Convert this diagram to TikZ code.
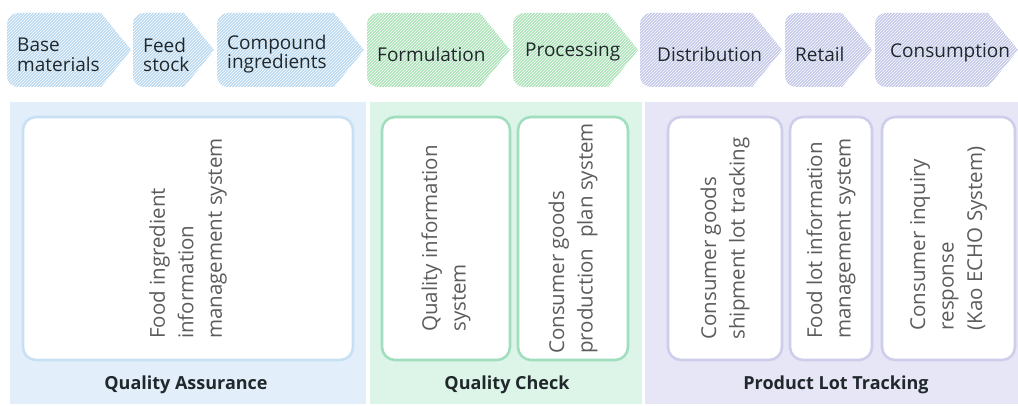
\documentclass[tikz,border=0pt]{standalone}
\usepackage{fontspec}
\setmainfont{Open Sans}
\usetikzlibrary{patterns}

\definecolor{stageblue}{RGB}{186,217,241}
\definecolor{stagegreen}{RGB}{172,226,184}
\definecolor{stagepurple}{RGB}{196,200,234}
\definecolor{panelblue}{RGB}{226,239,250}
\definecolor{panelgreen}{RGB}{221,244,232}
\definecolor{panelpurple}{RGB}{230,230,246}
\definecolor{edgeblue}{RGB}{200,224,244}
\definecolor{edgegreen}{RGB}{160,222,190}
\definecolor{edgepurple}{RGB}{206,206,236}
\definecolor{inkdark}{RGB}{32,40,44}
\definecolor{inkgray}{RGB}{92,92,92}

\begin{document}
\begin{tikzpicture}[x=1pt, y=1pt,
  hatch/.style={postaction={pattern=north east lines, pattern color=white, fill opacity=0.3}},
  stagetext/.style={anchor=west, align=left, inner sep=0pt, text=inkdark, font=\fontsize{19}{19.5}\selectfont},
  sysbox/.style={draw, line width=2.6pt, fill=white, rounded corners=13pt, rotate=90, align=left,
    inner sep=0pt, text=inkgray, font=\fontsize{20.5}{28.5}\selectfont},
  paneltitle/.style={inner sep=0pt, text=inkdark, font=\fontsize{18}{21}\selectfont\bfseries}]
\useasboundingbox (0,0) rectangle (1018,405);

% process stages along the top
\fill[stageblue, hatch] (7,329) arc[start angle=180, end angle=270, radius=11] -- (101,318) -- (131,355) -- (101,392) -- (18,392) arc[start angle=90, end angle=180, radius=11] -- cycle;
\fill[stageblue, hatch] (133,329) arc[start angle=180, end angle=270, radius=11] -- (184,318) -- (214,355) -- (184,392) -- (144,392) arc[start angle=90, end angle=180, radius=11] -- cycle;
\fill[stageblue, hatch] (217,329) arc[start angle=180, end angle=270, radius=11] -- (334,318) -- (364,355) -- (334,392) -- (228,392) arc[start angle=90, end angle=180, radius=11] -- cycle;
\fill[stagegreen, hatch] (367,329) arc[start angle=180, end angle=270, radius=11] -- (480,318) -- (510,355) -- (480,392) -- (378,392) arc[start angle=90, end angle=180, radius=11] -- cycle;
\fill[stagegreen, hatch] (513,329) arc[start angle=180, end angle=270, radius=11] -- (608,318) -- (638,355) -- (608,392) -- (524,392) arc[start angle=90, end angle=180, radius=11] -- cycle;
\fill[stagepurple, hatch] (640,329) arc[start angle=180, end angle=270, radius=11] -- (752,318) -- (782,355) -- (752,392) -- (651,392) arc[start angle=90, end angle=180, radius=11] -- cycle;
\fill[stagepurple, hatch] (785,329) arc[start angle=180, end angle=270, radius=11] -- (842,318) -- (872,355) -- (842,392) -- (796,392) arc[start angle=90, end angle=180, radius=11] -- cycle;
\fill[stagepurple, hatch] (875,329) arc[start angle=180, end angle=270, radius=11] -- (988,318) -- (1018,355) -- (988,392) -- (886,392) arc[start angle=90, end angle=180, radius=11] -- cycle;

\node[stagetext] (base) at (17,350) {Base\\materials};
\node[stagetext] (feed) at (143,350) {Feed\\stock};
\node[stagetext] (compound) at (227,351) {Compound\\ingredients};
\node[stagetext] (formulation) at (377,351) {Formulation};
\node[stagetext] (processing) at (525,353) {Processing};
\node[stagetext] (distribution) at (657,351) {Distribution};
\node[stagetext] (retail) at (795,351) {Retail};
\node[stagetext] (consumption) at (890,352) {Consumption};

% backing panels
\fill[panelblue] (10,1) rectangle (366,303);
\fill[panelgreen] (370,1) rectangle (642,303);
\fill[panelpurple] (645,1) rectangle (1018,303);

% systems in each panel
\node[sysbox, draw=edgeblue, minimum width=243pt, minimum height=330pt] (foodingredient) at (188,166.5) {Food ingredient\\information\\management system};
\node[sysbox, draw=edgegreen, minimum width=243pt, minimum height=128pt] (qualityinfo) at (446,166.5) {Quality information\\system};
\node[sysbox, draw=edgegreen, minimum width=243pt, minimum height=110pt] (productionplan) at (573,166.5) {Consumer goods\\production\ \ plan system};
\node[sysbox, draw=edgepurple, minimum width=243pt, minimum height=114pt] (shipmentlot) at (725,166.5) {Consumer goods\\shipment lot tracking};
\node[sysbox, draw=edgepurple, minimum width=243pt, minimum height=82pt] (foodlot) at (831,166.5) {Food lot information\\management system};
\node[sysbox, draw=edgepurple, minimum width=243pt, minimum height=133pt] (inquiry) at (948.5,166.5) {Consumer inquiry\\response\\(Kao ECHO System)};

\node[paneltitle] (assurance) at (186,20) {Quality Assurance};
\node[paneltitle] (check) at (507,20) {Quality Check};
\node[paneltitle] (lottracking) at (836,20) {Product Lot Tracking};
\end{tikzpicture}
\end{document}
